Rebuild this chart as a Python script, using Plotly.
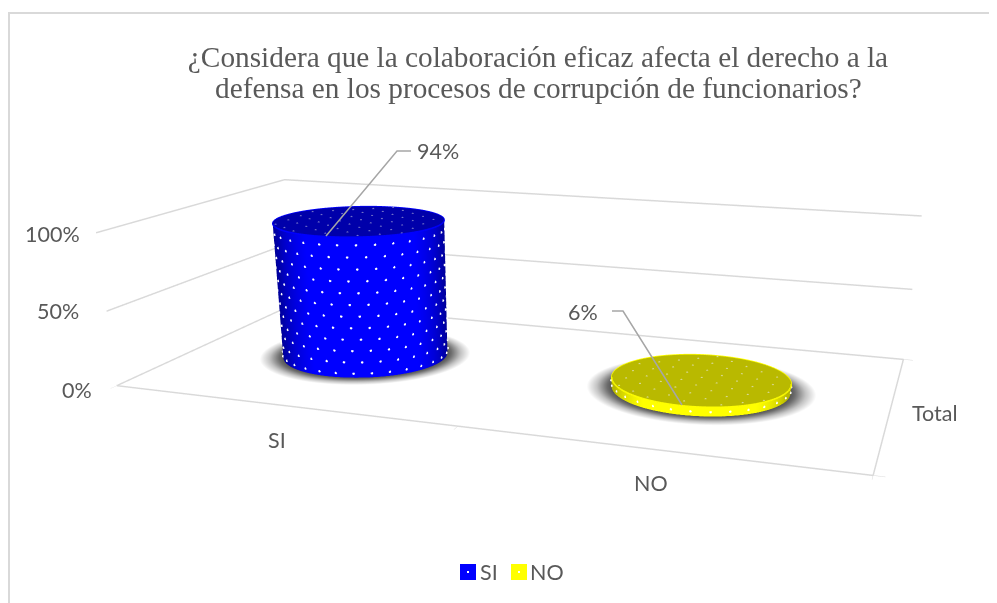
import numpy as np
import plotly.graph_objects as go

categories = ["SI", "NO"]
values = [94, 6]
colors = ["#0000FF", "#FFFF00"]
dark = ["#0000AA", "#B9B900"]
edge = ["#00008C", "#B0B000"]
top_dot = ["#7070C8", "#D8D890"]
z_ticks = [0, 50, 100]
z_labels = ["0%", "50%", "100%"]
title_lines = ["¿Considera que la colaboración eficaz afecta el derecho a la",
               "defensa en los procesos de corrupción de funcionarios?"]

W, H_ = 989, 1035
def PX(x): return (x-8)/W
def PY(y): return 1-(y-8)/H_

eye_v = [1.1247, -3.2022, 0.8136]
cen_v = [0.0693, -0.1848, -0.5908]
up_v = [-0.1342, 0.3795, 0.9157]
asp = [2.0, 0.9807, 0.4115]

rx = 0.24
ry = rx * (asp[0]/2) / asp[1]
xc = [0.5, 1.5]
yc = 0.52
th = np.linspace(0, 2*np.pi, 121)
fig = go.Figure()
flat = dict(ambient=1, diffuse=0, specular=0, fresnel=0, roughness=1)
def surf(X, Y, Z, C, cs):
    fig.add_trace(go.Surface(x=X, y=Y, z=Z, surfacecolor=C, colorscale=cs, cmin=0, cmax=1, showscale=False,
                             lighting=flat, hoverinfo="skip", showlegend=False,
                             contours=dict(x=dict(highlight=False), y=dict(highlight=False), z=dict(highlight=False))))
for i, cat in enumerate(categories):
    h = values[i]; cx = xc[i]
    rr = np.linspace(0, 1.28, 50)
    X = cx + rx*np.outer(rr, np.cos(th)); Y = yc + ry*np.outer(rr, np.sin(th)); Z = np.zeros_like(X)
    C = np.outer(np.clip((rr-0.95)/0.33, 0, 1), np.ones_like(th))
    surf(X, Y, Z, C, [[0,"#404040"],[0.3,"#6e6e6e"],[0.65,"#c4c4c4"],[1,"#ffffff"]])
    X = cx + rx*np.outer(np.ones(2), np.cos(th)); Y = yc + ry*np.outer(np.ones(2), np.sin(th))
    Z = np.outer([0, h], np.ones_like(th))
    th0 = np.arctan2(eye_v[1]-0, eye_v[0]-(cx/2-.5)*asp[0])
    C = np.outer(np.ones(2), np.clip(np.cos(th-th0), 0, 1))
    surf(X, Y, Z, C, [[0, edge[i]], [0.35, dark[i]], [0.8, colors[i]], [1, colors[i]]])
    rt = np.linspace(0, 1, 3)
    X = cx + rx*np.outer(rt, np.cos(th)); Y = yc + ry*np.outer(rt, np.sin(th)); Z = np.full_like(X, h)
    surf(X, Y, Z, np.zeros_like(X), [[0, dark[i]], [1, dark[i]]])
    fig.add_trace(go.Scatter3d(x=cx+rx*np.cos(th), y=yc+ry*np.sin(th), z=np.full_like(th, h), mode="lines",
                               line=dict(color=colors[i], width=3), hoverinfo="skip", showlegend=False))
    px_, py_, pz_ = [], [], []
    for k, zz in enumerate(np.arange(3, h, 7.8)):
        for a in np.arange(0, 2*np.pi, 2*np.pi/30) + (k % 2)*np.pi/30:
            px_.append(cx+rx*1.004*np.cos(a)); py_.append(yc+ry*1.004*np.sin(a)); pz_.append(zz)
    fig.add_trace(go.Scatter3d(x=px_, y=py_, z=pz_, mode="markers", marker=dict(color="white", size=1.5, line=dict(width=0)),
                               hoverinfo="skip", showlegend=False))
    tx, ty = [], []
    for k, u in enumerate(np.arange(-1, 1.001, 0.2)):
        for w in np.arange(-1, 1.001, 0.3) + (k % 2)*0.15:
            if u*u + w*w < 0.95:
                tx.append(cx+rx*u); ty.append(yc+ry*w)
    fig.add_trace(go.Scatter3d(x=tx, y=ty, z=np.full(len(tx), h+0.15), mode="markers",
                               marker=dict(color=top_dot[i], size=1.2, line=dict(width=0)),
                               hoverinfo="skip", showlegend=False))

tick_font = dict(family="Lato", size=21.5, color="#595959")
axis = dict(showbackground=False, zeroline=False, title="", showticklabels=False,
            tickcolor="#D9D9D9", linecolor="#D9D9D9", linewidth=3, gridcolor="#D9D9D9", gridwidth=3,
            showspikes=False)
scene_ann = []
for v, lab, (sx, sy) in zip(z_ticks, z_labels, [(-40,-4),(-49,0),(-44,-1)]):
    scene_ann.append(dict(x=0, y=0, z=v, text=lab, showarrow=False, xshift=sx, yshift=sy, font=tick_font))
for c, lab, (sx, sy) in zip(xc, categories, [(-2,-35),(-4,-33)]):
    scene_ann.append(dict(x=c, y=0, z=0, text=lab, showarrow=False, xshift=sx, yshift=sy, font=tick_font))
scene_ann.append(dict(x=2, y=0.5, z=0, text="Total", showarrow=False, xshift=45, yshift=-3, font=tick_font))
title_font = dict(family="Liberation Serif", size=29.3, color="#595959")
def paper_text(text, x, y, font):
    return dict(text=text, x=PX(x), y=PY(y), xref="paper", yref="paper", showarrow=False, xanchor="center", yanchor="middle", font=font)
def rect(x0, y0, x1, y1, color):
    return dict(type="rect", xref="paper", yref="paper", x0=PX(x0), x1=PX(x1), y0=PY(y0), y1=PY(y1), fillcolor=color, line=dict(width=0))
fig.update_layout(
    width=W, height=H_, margin=dict(l=0, r=0, t=0, b=0), paper_bgcolor="white", font=tick_font, showlegend=False,
    title=dict(text=title_lines[0], x=PX(538), xanchor="center", y=PY(57), yanchor="middle", font=title_font),
    scene=dict(
        domain=dict(x=[0.0455,1], y=[0,1]), dragmode="orbit",
        aspectmode="manual", aspectratio=dict(x=asp[0], y=asp[1], z=asp[2]),
        camera=dict(eye=dict(x=eye_v[0], y=eye_v[1], z=eye_v[2]), center=dict(x=cen_v[0], y=cen_v[1], z=cen_v[2]),
                    up=dict(x=up_v[0], y=up_v[1], z=up_v[2]), projection=dict(type="perspective")),
        xaxis=dict(axis, range=[0,2], tickvals=[0,1,2], ticks="outside", ticklen=8, showgrid=False, showline=True),
        yaxis=dict(axis, range=[0,1], tickvals=[0,1], ticks="outside", ticklen=8, showgrid=False, showline=True),
        zaxis=dict(axis, range=[0,100], tickvals=z_ticks, ticks="", showgrid=True, showline=False),
        annotations=scene_ann,
    ),
    shapes=[
        dict(type="path", xref="paper", yref="paper", path=f"M {PX(9)} {PY(640)} L {PX(9)} {PY(13)} L {PX(995)} {PY(13)} L {PX(995)} {PY(640)}", line=dict(color="#D9D9D9", width=2), layer="below"),
        dict(type="path", xref="paper", yref="paper", path=f"M {PX(326)} {PY(236)} L {PX(397)} {PY(151)} L {PX(411)} {PY(151)}", line=dict(color="#A6A6A6", width=1.5)),
        dict(type="path", xref="paper", yref="paper", path=f"M {PX(682)} {PY(405)} L {PX(623)} {PY(311)} L {PX(612)} {PY(311)}", line=dict(color="#A6A6A6", width=1.5)),
        rect(460, 564, 476, 580, colors[0]), rect(511, 564, 527, 580, colors[1]),
        rect(467, 571, 469, 573, "white"), rect(518, 571, 520, 573, "white"),
    ],
    annotations=[
        paper_text(title_lines[1], 538, 88, title_font),
        paper_text(f"{values[0]}%", 438, 151, tick_font),
        paper_text(f"{values[1]}%", 583, 312, tick_font),
        paper_text(categories[0], 489, 572, tick_font),
        paper_text(categories[1], 547, 572, tick_font),
    ],
)
fig.write_html("out.html")
